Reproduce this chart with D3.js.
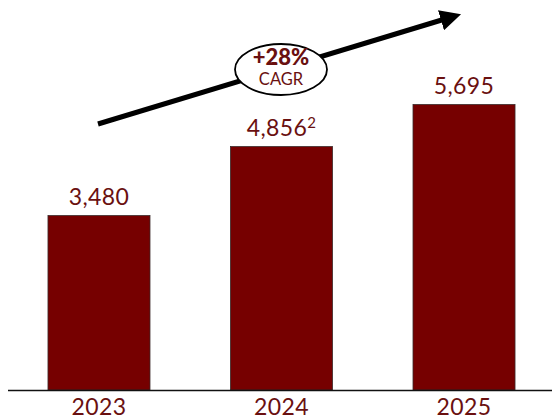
<!DOCTYPE html>
<html>
<head>
<meta charset="utf-8">
<script src="https://cdn.jsdelivr.net/npm/d3@7"></script>
<style>
html,body{margin:0;padding:0;background:#fff;}
svg{display:block;}
</style>
</head>
<body>
<svg id="chart" width="552" height="416"></svg>
<script>
const years = ["2023", "2024", "2025"];
const values = [3480, 4856, 5695];
const valueLabels = ["3,480", "4,856", "5,695"];
const footnotes = ["", "2", ""];
const cagrValue = "+28%";
const cagrLabel = "CAGR";

const W = 552, H = 416;
const baseY = 390;
const barColor = "#760000";
const textColor = "#6a1010";
const font = "Lato, 'Noto Sans', sans-serif";

const svg = d3.select("#chart");

const x = d3.scaleBand().domain(years).range([8, 555]).paddingInner(0.441).paddingOuter(0.219);
const y = d3.scaleLinear().domain([0, 7780]).range([baseY, 0]);

const data = years.map((yr, i) => ({yr, v: values[i], lab: valueLabels[i], fn: footnotes[i]}));

svg.append("g").selectAll("rect").data(data).join("rect")
  .attr("x", d => x(d.yr))
  .attr("y", d => y(d.v))
  .attr("width", x.bandwidth())
  .attr("height", d => baseY - y(d.v))
  .attr("fill", barColor)
  .attr("stroke", "#3a2a2a")
  .attr("stroke-width", 0.8);

// value labels
const lab = svg.append("g").selectAll("text").data(data).join("text")
  .attr("x", d => x(d.yr) + x.bandwidth() / 2)
  .attr("y", d => y(d.v) - 11)
  .attr("text-anchor", "middle")
  .attr("font-family", font)
  .attr("font-size", 23)
  .attr("letter-spacing", 0.4)
  .attr("fill", textColor);
lab.append("tspan").text(d => d.lab);
lab.append("tspan").attr("font-size", 15).attr("dy", -8).text(d => d.fn);

// x axis
const axis = svg.append("g").attr("transform", `translate(0,${baseY})`)
  .call(d3.axisBottom(x).tickSize(0).tickPadding(0));
axis.select(".domain").attr("stroke", "#111").attr("stroke-width", 1.5).attr("d", "M8,0.5H552");
axis.selectAll(".tick text")
  .attr("y", 25).attr("dy", 0)
  .attr("font-family", font).attr("font-size", 23)
  .attr("letter-spacing", 0.4)
  .attr("fill", textColor);

// CAGR arrow
const defs = svg.append("defs");
defs.append("marker").attr("id", "ah")
  .attr("viewBox", "0 0 10 10").attr("refX", 2).attr("refY", 5)
  .attr("markerWidth", 4.2).attr("markerHeight", 4.2)
  .attr("orient", "auto").attr("markerUnits", "strokeWidth")
  .append("path").attr("d", "M0,0L10,5L0,10Z").attr("fill", "#000");

const x0 = 98, y0 = 124, x1 = 445, y1 = 19;
svg.append("line")
  .attr("x1", x0).attr("y1", y0).attr("x2", x1).attr("y2", y1)
  .attr("stroke", "#000").attr("stroke-width", 5)
  .attr("marker-end", "url(#ah)");

svg.append("ellipse").attr("cx", 281).attr("cy", 69.5).attr("rx", 46).attr("ry", 25.5)
  .attr("fill", "#fff").attr("stroke", "#000").attr("stroke-width", 1.8);
svg.append("text").attr("x", 281).attr("y", 65).attr("text-anchor", "middle")
  .attr("font-family", font).attr("font-weight", 900).attr("font-size", 22)
  .attr("fill", textColor).text(cagrValue);
svg.append("text").attr("x", 281).attr("y", 85).attr("text-anchor", "middle")
  .attr("font-family", font).attr("font-size", 16.5)
  .attr("fill", textColor).text(cagrLabel);
</script>
</body>
</html>
